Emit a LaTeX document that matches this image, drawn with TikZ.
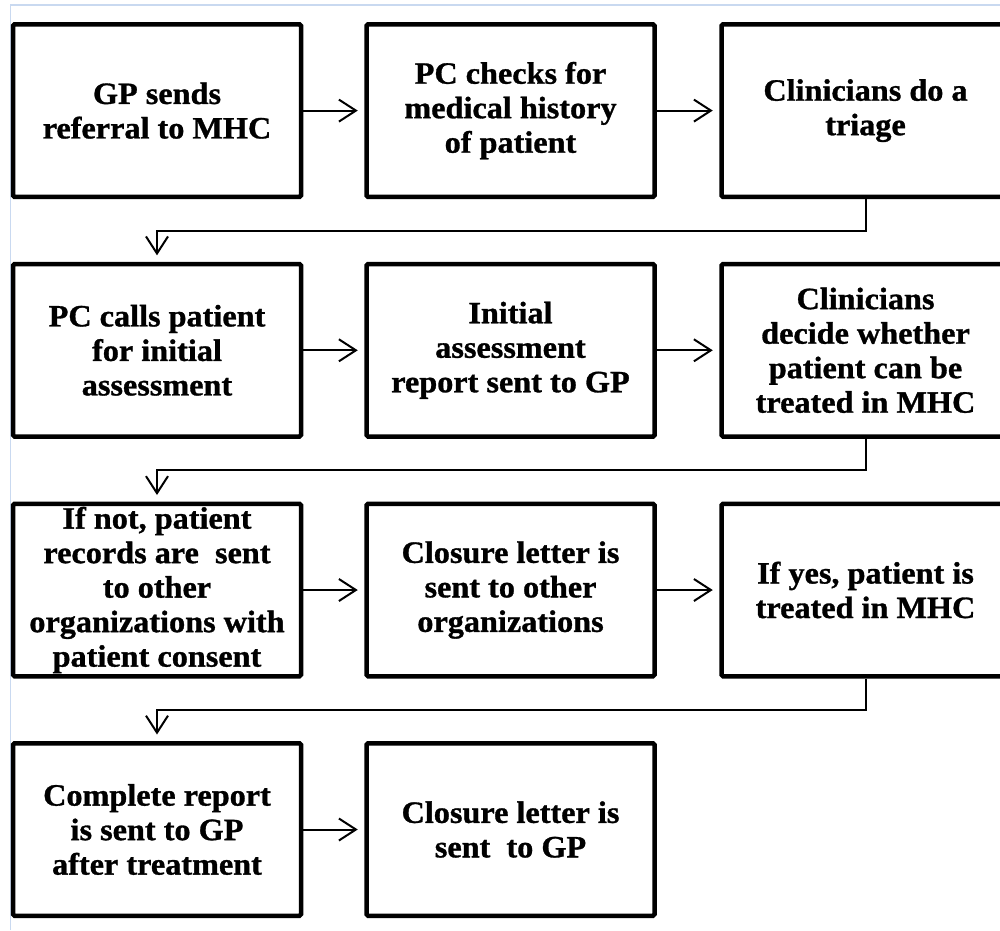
\documentclass[tikz,border=0pt]{standalone}
\usepackage{fontspec}
\setmainfont{Liberation Serif}[FakeStretch=1.04, BoldFeatures={FakeBold=1}]
\usetikzlibrary{arrows.meta}
\definecolor{frameblue}{HTML}{C9D9F0}
\tikzset{
  stepbox/.style={draw=black, line width=4.5pt, rounded corners=1.5pt,
    minimum width=288pt, minimum height=172.5pt, inner sep=0pt,
    align=center, font=\fontsize{31}{34.5}\selectfont\bfseries},
  flow/.style={line width=2pt,
    -{Straight Barb[length=17pt, width=22pt, line width=2pt]},
    shorten >=6.5pt}
}
\begin{document}
\begin{tikzpicture}[x=1pt, y=-1pt]
\useasboundingbox (0,0) rectangle (1000,930);
\fill[white] (0,0) rectangle (1000,930);
% thin page frame on the top and left
\draw[frameblue, line width=1.5pt] (10.5,930) -- (10.5,5) -- (1000,5);

% boxes, three per row
\node[stepbox] (a1) at (157,110.6) {GP sends\\referral to MHC};
\node[stepbox] (a2) at (510.5,110.6) {PC checks for\\medical history\\of patient};
\node[stepbox] (a3) at (865.5,110.6) {Clinicians do a\\triage};

\node[stepbox] (b1) at (157,350.3) {PC calls patient\\for initial\\assessment};
\node[stepbox] (b2) at (510.5,350.3) {Initial\\assessment\\report sent to GP};
\node[stepbox] (b3) at (865.5,350.3) {Clinicians\\decide whether\\patient can be\\treated in MHC};

\node[stepbox] (c1) at (157,590) {If not, patient\\records are\ \ sent\\to other\\organizations with\\patient consent};
\node[stepbox] (c2) at (510.5,590) {Closure letter is\\sent to other\\organizations};
\node[stepbox] (c3) at (865.5,590) {If yes, patient is\\treated in MHC};

\node[stepbox] (d1) at (157,829.5) {Complete report\\is sent to GP\\after treatment};
\node[stepbox] (d2) at (510.5,829.5) {Closure letter is\\sent\ \ to GP};

% arrows along each row
\draw[flow] (a1.east) -- (a2.west);
\draw[flow] (a2.east) -- (a3.west);
\draw[flow] (b1.east) -- (b2.west);
\draw[flow] (b2.east) -- (b3.west);
\draw[flow] (c1.east) -- (c2.west);
\draw[flow] (c2.east) -- (c3.west);
\draw[flow] (d1.east) -- (d2.west);

% returns from the end of one row to the start of the next
\coordinate (r1) at (865.5,230.5);
\coordinate (r2) at (865.5,470);
\coordinate (r3) at (865.5,709.5);
\draw[flow] (a3.south) -- (r1) -| (b1.north);
\draw[flow] (b3.south) -- (r2) -| (c1.north);
\draw[flow] (c3.south) -- (r3) -| (d1.north);
\end{tikzpicture}
\end{document}
